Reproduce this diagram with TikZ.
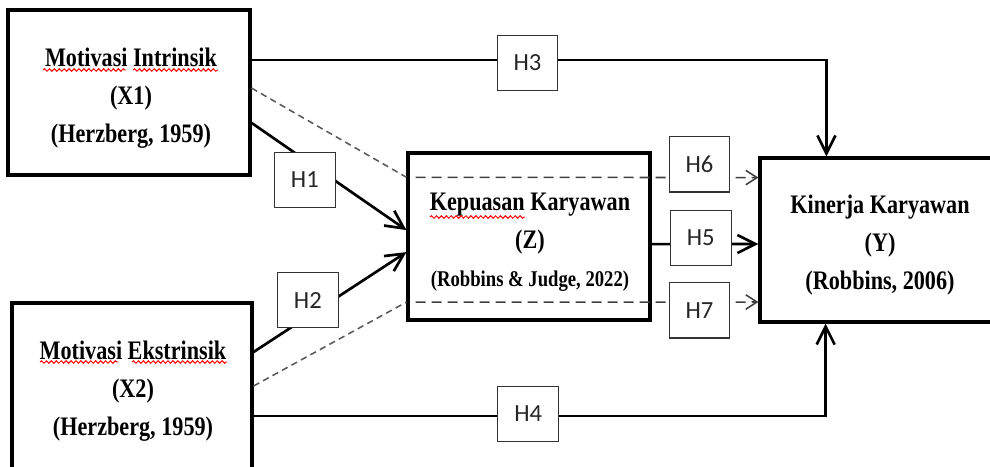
\documentclass[tikz,border=0pt]{standalone}
\usepackage{fontspec}
\newfontfamily\varfont[FakeStretch=0.83]{Liberation Serif}
\newfontfamily\hypfont{Carlito}
\usetikzlibrary{arrows.meta,decorations.pathmorphing}

\begin{document}
\begin{tikzpicture}[x=0.025cm,y=-0.025cm,
    varbox/.style={draw=black,line width=2.2pt,minimum width=6.05cm,inner sep=0pt},
    vartext/.style={align=center,inner sep=0pt,font=\varfont\bfseries\fontsize{19}{27}\selectfont},
    hbox/.style={draw=black!80,solid,line width=0.8pt,fill=white,minimum width=1.52cm,minimum height=1.38cm,inner sep=0pt,text=black!85,font=\hypfont\fontsize{17.5}{20}\selectfont},
    solidline/.style={line width=1.9pt},
    dashline/.style={line width=1.1pt,draw=black!65,dash pattern=on 0.16cm off 0.11cm},
    flatline/.style={line width=1.1pt,draw=black!75,dash pattern=on 0.25cm off 0.15cm},
    bigtip/.style={-{Straight Barb[length=0.45cm,width=0.45cm]}},
    smalltip/.style={-{Straight Barb[length=0.28cm,width=0.36cm]}},
    squiggle/.style={draw=red,line width=0.7pt,decorate,decoration={snake,amplitude=0.9pt,segment length=3.5pt}}]

    \useasboundingbox (0,0) rectangle (990,466);
    \clip (0,0) rectangle (990,466);

    % variable boxes
    \node[varbox,minimum height=4.125cm] (X1) at (129,92.5) {};
    \node[varbox,minimum width=6cm,minimum height=4.35cm] (X2) at (132,390) {};
    \node[varbox,minimum height=4.175cm] (Z) at (529,236.5) {};
    \node[varbox,minimum height=4.1cm] (Y) at (881,240) {};

    \node[vartext] (X1t) at (131,98) {Motivasi Intrinsik\\(X1)\\(Herzberg, 1959)};
    \node[vartext] (X2t) at (133,391) {Motivasi Ekstrinsik\\(X2)\\(Herzberg, 1959)};
    \node[vartext] (Zt) at (530,242) {Kepuasan Karyawan\\(Z)\\{\fontsize{16}{20}\selectfont(Robbins \& Judge, 2022)}};
    \node[vartext] (Yt) at (880,245) {Kinerja Karyawan\\(Y)\\(Robbins, 2006)};

    % spell check marks
    \draw[squiggle] (43,70) -- (126,70);
    \draw[squiggle] (133,70) -- (218,70);
    \draw[squiggle] (40,362) -- (118,362);
    \draw[squiggle] (132,362) -- (227,362);
    \draw[squiggle] (430,217) -- (525,217);

    % dashed paths through Z
    \draw[dashline] ([yshift=0.11cm]X1.east) -- ([yshift=1.48cm]Z.west);
    \draw[dashline] ([yshift=0.1cm]X2.east) -- ([yshift=-1.64cm]Z.west);
    \draw[flatline,smalltip] ([xshift=0.23cm,yshift=1.48cm]Z.west) -- node[hbox,pos=0.828,yshift=0.33cm] (H6) {H6} ([yshift=1.56cm]Y.west);
    \draw[flatline,smalltip] ([xshift=0.23cm,yshift=-1.64cm]Z.west) -- node[hbox,pos=0.828,yshift=-0.21cm] (H7) {H7} ([yshift=-1.55cm]Y.west);

    % direct paths
    \draw[solidline,bigtip] ([yshift=-0.76cm]X1.east) -- node[hbox,pos=0.344,yshift=-0.5cm] (H1) {H1} ([yshift=0.16cm]Z.west);
    \draw[solidline,bigtip] ([yshift=0.95cm]X2.east) -- node[hbox,pos=0.355,yshift=0.41cm] (H2) {H2} ([yshift=-0.39cm]Z.west);
    \draw[solidline,bigtip] ([yshift=-0.19cm]Z.east) -- node[hbox,pos=0.46,yshift=0.15cm] (H5) {H5} ([yshift=-0.1cm]Y.west);
    \draw[solidline,bigtip] ([yshift=0.81cm]X1.east) -| node[hbox,pos=0.24,yshift=-0.07cm] (H3) {H3} ([xshift=1.7cm]Y.north west);
    \draw[solidline,bigtip] ([yshift=-0.65cm]X2.east) -| node[hbox,pos=0.24,yshift=0.05cm] (H4) {H4} ([xshift=1.68cm]Y.south west);

\end{tikzpicture}
\end{document}
